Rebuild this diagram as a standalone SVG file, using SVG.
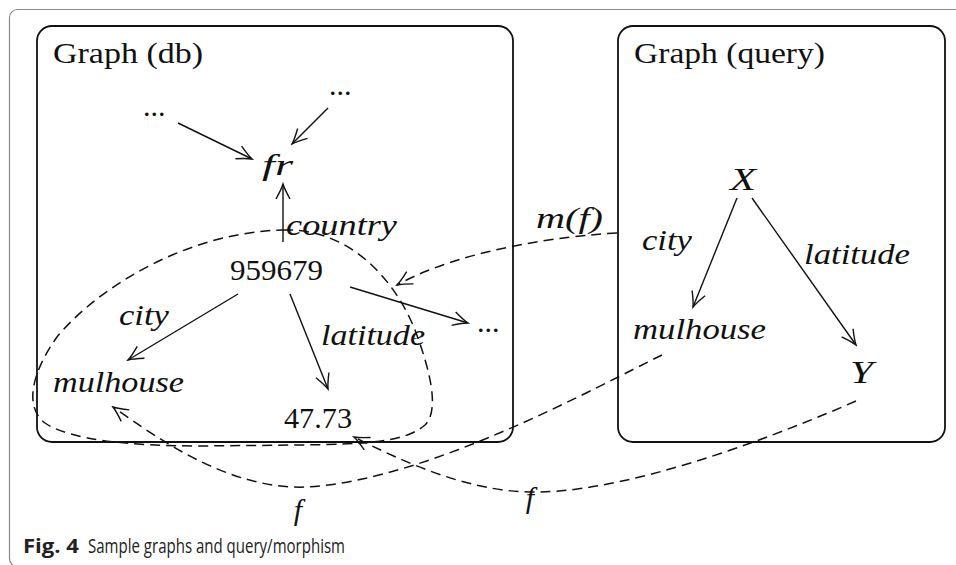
<svg xmlns="http://www.w3.org/2000/svg" width="956" height="565" viewBox="0 0 956 565">
<style>
.frame{fill:none;stroke:#8a8a8a;stroke-width:1.2}
.box{fill:none;stroke:#111;stroke-width:1.8}
.t{font-family:"Liberation Serif","Times New Roman",serif;font-size:30px;fill:#111}
.m{font-family:"Liberation Serif","Times New Roman",serif;font-size:30px;font-style:italic;fill:#111}
.e{fill:none;stroke:#111;stroke-width:1.4}
.d{fill:none;stroke:#111;stroke-width:1.5;stroke-dasharray:10 6}
.cap{font-family:"Open Sans","Liberation Sans",Arial,sans-serif;font-size:20px;fill:#222}
</style>
<defs>
<marker id="ah" viewBox="-18 -9 20 18" refX="0" refY="0" markerWidth="20" markerHeight="18" markerUnits="userSpaceOnUse" orient="auto">
<path d="M-15,-7 Q-5,-1.5 0,0 Q-5,1.5 -15,7" fill="none" stroke="#111" stroke-width="1.4" stroke-dasharray="none"/>
</marker>
</defs>
<rect class="frame" x="9.5" y="9.5" width="1000" height="557" rx="8"/>
<g id="db-graph">
<rect class="box" x="37" y="26" width="476" height="416" rx="15"/>
<text class="t" x="53" y="63" textLength="150" lengthAdjust="spacingAndGlyphs">Graph (db)</text>
</g>
<g id="query-graph">
<rect class="box" x="618" y="26" width="327" height="416" rx="15"/>
<text class="t" x="634" y="63" textLength="191" lengthAdjust="spacingAndGlyphs">Graph (query)</text>
</g>
<g id="n-dots1"><text class="t" x="143" y="116">...</text></g>
<g id="n-dots2"><text class="t" x="329" y="95">...</text></g>
<g id="n-fr"><text class="m" x="262" y="175" textLength="31" lengthAdjust="spacingAndGlyphs">fr</text></g>
<g id="n-959679"><text class="t" x="230" y="280" textLength="93" lengthAdjust="spacingAndGlyphs">959679</text></g>
<g id="n-mulhouse-db"><text class="m" x="53" y="392" textLength="131" lengthAdjust="spacingAndGlyphs">mulhouse</text></g>
<g id="n-4773"><text class="t" x="284" y="428" textLength="68" lengthAdjust="spacingAndGlyphs">47.73</text></g>
<g id="n-dots3"><text class="t" x="477" y="332">...</text></g>
<g id="n-X"><text class="m" x="730" y="190" style="font-size:32px" textLength="26" lengthAdjust="spacingAndGlyphs">X</text></g>
<g id="n-mulhouse-q"><text class="m" x="633" y="339" textLength="133" lengthAdjust="spacingAndGlyphs">mulhouse</text></g>
<g id="n-Y"><text class="m" x="850" y="383" style="font-size:32px" textLength="23" lengthAdjust="spacingAndGlyphs">Y</text></g>
<g id="connectors">
<line class="e" x1="178" y1="123" x2="252" y2="159" marker-end="url(#ah)"/>
<line class="e" x1="328" y1="108" x2="292" y2="144" marker-end="url(#ah)"/>
<line class="e" x1="283" y1="242" x2="283" y2="184" marker-end="url(#ah)"/>
<line class="e" x1="238" y1="294" x2="128" y2="360" marker-end="url(#ah)"/>
<line class="e" x1="290" y1="294" x2="328" y2="389" marker-end="url(#ah)"/>
<line class="e" x1="350" y1="287" x2="468" y2="323" marker-end="url(#ah)"/>
<line class="e" x1="737" y1="198" x2="693" y2="307" marker-end="url(#ah)"/>
<line class="e" x1="752" y1="198" x2="856" y2="345" marker-end="url(#ah)"/>
<path class="d" d="M283,230 C350,228 395,280 415,330 C430,370 440,410 425,425 C405,442 370,444 300,445 L200,446 C130,446 70,440 45,423 C25,408 30,375 57,337 C100,285 190,232 283,230 Z"/>
<path class="d" d="M617,233 C560,236 460,250 397,285" marker-end="url(#ah)"/>
<path class="d" d="M662,355 C600,385 430,480 307,487 C230,490 160,440 113,407" marker-end="url(#ah)"/>
<path class="d" d="M856,401 C790,430 640,490 540,492 C470,494 400,460 354,437" marker-end="url(#ah)"/>
<text class="m" x="286" y="235" textLength="111" lengthAdjust="spacingAndGlyphs">country</text>
<text class="m" x="119" y="325" textLength="50" lengthAdjust="spacingAndGlyphs">city</text>
<text class="m" x="321" y="345" textLength="104" lengthAdjust="spacingAndGlyphs">latitude</text>
<text class="m" x="536" y="228" textLength="67" lengthAdjust="spacingAndGlyphs">m(f)</text>
<text class="m" x="642" y="250" textLength="50" lengthAdjust="spacingAndGlyphs">city</text>
<text class="m" x="804" y="264" textLength="106" lengthAdjust="spacingAndGlyphs">latitude</text>
<text class="m" x="298" y="520" text-anchor="middle">f</text>
<text class="m" x="530" y="508" text-anchor="middle">f</text>
</g>
<text class="cap" x="23" y="553" font-weight="bold" textLength="56" lengthAdjust="spacingAndGlyphs">Fig. 4</text>
<text class="cap" x="88" y="553" textLength="257" lengthAdjust="spacingAndGlyphs">Sample graphs and query/morphism</text>
</svg>
